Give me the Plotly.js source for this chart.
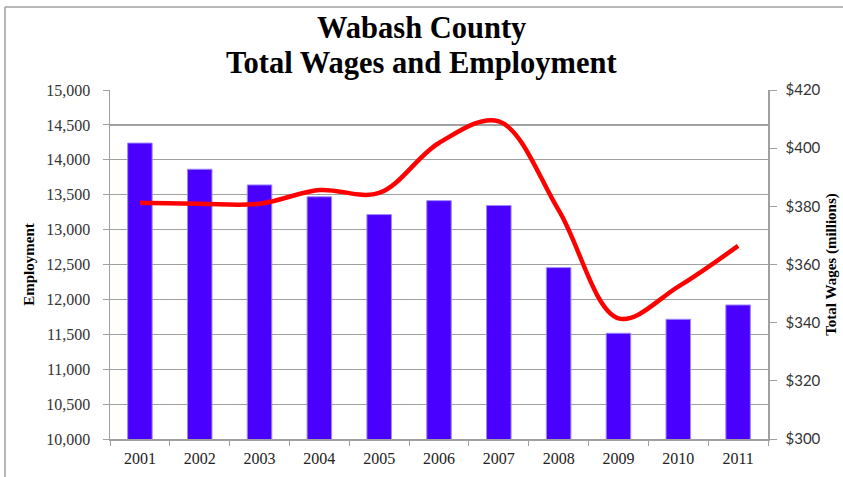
<!DOCTYPE html>
<html>
<head>
<meta charset="utf-8">
<script src="https://cdn.plot.ly/plotly-3.0.1.min.js"></script>
<style>html,body{margin:0;padding:0;background:#fff;}#chart{width:843px;height:477px;}</style>
</head>
<body>
<div id="chart"></div>
<script>
const years = ['2001','2002','2003','2004','2005','2006','2007','2008','2009','2010','2011'];
const employment = [14240, 13865, 13640, 13470, 13215, 13415, 13345, 12455, 11515, 11715, 11920];
const totalWages = [381.2, 380.9, 380.9, 385.6, 384.6, 401.8, 409.2, 378.7, 341.5, 352.4, 366.4];
const empTicks = [10000, 10500, 11000, 11500, 12000, 12500, 13000, 13500, 14000, 14500, 15000];
const wageTicks = [300, 320, 340, 360, 380, 400, 420];
const titleLines = ['Wabash County', 'Total Wages and Employment'];

const serif = '"Liberation Serif", "Times New Roman", serif';
const sans = 'Lato, "Open Sans", "Liberation Sans", sans-serif';

const traces = [
  {
    type: 'bar', x: years, y: employment, name: 'Employment',
    marker: {color: '#4a00ff', line: {color: '#9d88ff', width: 1}},
    yaxis: 'y'
  },
  {
    type: 'scatter', mode: 'lines', x: years, y: totalWages, name: 'Total Wages',
    line: {color: '#ff0000', width: 4.5, shape: 'spline', smoothing: 1},
    yaxis: 'y2'
  }
];

const layout = {
  width: 843, height: 477,
  margin: {l: 110, r: 75, t: 90, b: 38},
  paper_bgcolor: '#ffffff', plot_bgcolor: '#ffffff',
  showlegend: false,
  bargap: 0.59,
  xaxis: {
    type: 'category', tickson: 'boundaries',
    ticks: 'outside', ticklen: 5, tickcolor: '#a0a0a0',
    showline: true, linecolor: '#a0a0a0', linewidth: 1.5,
    showgrid: false, zeroline: false,
    tickfont: {family: serif, size: 16, color: '#222'},
    ticklabelstandoff: 4
  },
  yaxis: {
    range: [10000, 15000], tickvals: empTicks,
    ticktext: empTicks.map(v => v.toLocaleString('en-US')),
    ticks: 'outside', ticklen: 6, tickcolor: '#a0a0a0',
    showline: true, linecolor: '#a0a0a0', linewidth: 1.5,
    showgrid: true, gridcolor: '#a0a0a0', gridwidth: 1.2,
    zeroline: false,
    tickfont: {family: serif, size: 16, color: '#333'},
    ticklabelstandoff: 9,
    title: {text: '<b>Employment</b>', font: {family: serif, size: 15, color: '#000'}, standoff: 8}
  },
  yaxis2: {
    overlaying: 'y', side: 'right',
    range: [300, 420], tickvals: wageTicks,
    ticktext: wageTicks.map(v => '$' + v),
    ticks: 'outside', ticklen: 7, tickcolor: '#a0a0a0',
    showline: true, linecolor: '#a0a0a0', linewidth: 1.5,
    showgrid: false, zeroline: false,
    tickfont: {family: sans, size: 15, color: '#333'},
    ticklabelstandoff: 6,
    title: {text: '<b>Total Wages (millions)</b>', font: {family: serif, size: 15, color: '#000'}, standoff: 6}
  },
  annotations: [
    {text: '<b>' + titleLines[0] + '</b>', xref: 'paper', yref: 'paper', x: 0.4734, y: 1.1785,
     xanchor: 'center', yanchor: 'middle', showarrow: false,
     font: {family: serif, size: 30.5, color: '#000'}},
    {text: '<b>' + titleLines[1] + '</b>', xref: 'paper', yref: 'paper', x: 0.4734, y: 1.078,
     xanchor: 'center', yanchor: 'middle', showarrow: false,
     font: {family: serif, size: 30.5, color: '#000'}}
  ],
  shapes: [
    {type: 'line', xref: 'paper', yref: 'paper', x0: -0.1596, x1: 1.2, y0: 1.238, y1: 1.238,
     line: {color: '#a0a0a0', width: 1.5}},
    {type: 'line', xref: 'paper', yref: 'paper', x0: -0.1596, x1: -0.1596, y0: 1.238, y1: -0.2,
     line: {color: '#a0a0a0', width: 1.5}}
  ]
};

Plotly.newPlot('chart', traces, layout, {displayModeBar: false, staticPlot: true});
</script>
</body>
</html>
